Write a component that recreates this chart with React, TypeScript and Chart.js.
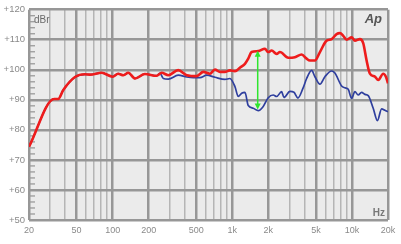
import React, { useEffect, useRef } from "react";
import { Chart, registerables } from "chart.js";
Chart.register(...registerables);

const redFreq = [20, 32.5, 35.1, 38.7, 48.5, 58.7, 64.7, 81, 100, 111, 123, 135, 154, 186, 233, 257, 292, 353, 416, 504, 572, 650, 716, 788, 868, 955, 1052, 1158, 1275, 1359, 1451, 1647, 1873, 1996, 2132, 2346, 2500, 2933, 3337, 3796, 4178, 4452, 4902, 5396, 6139, 6758, 7442, 7930, 8450, 9020, 9932, 10582, 11648, 12412, 13250, 14124, 15546, 16564, 18238, 19212, 20000];
const redDb = [74.4, 90.3, 90.3, 93.3, 97.6, 98.5, 98.4, 99.0, 97.7, 98.7, 98.2, 99.0, 97.1, 98.6, 98.0, 99.0, 98.2, 99.9, 98.2, 97.9, 99.3, 98.7, 100.1, 99.3, 99.3, 99.8, 99.5, 100.7, 102.0, 103.7, 105.9, 106.2, 107.0, 105.9, 106.4, 105.3, 105.9, 104.0, 104.2, 105.1, 103.7, 103.1, 103.1, 105.9, 109.7, 110.2, 111.9, 112.2, 111.3, 110.0, 110.8, 109.7, 110.2, 108.9, 103.1, 98.7, 97.7, 96.6, 98.7, 97.7, 95.5];

const blueFreq = [20, 32.5, 35.1, 38.7, 48.5, 58.7, 64.7, 81, 100, 111, 123, 135, 154, 186, 233, 249, 265, 292, 353, 416, 472, 537, 610, 716, 868, 955, 1052, 1121, 1197, 1275, 1359, 1496, 1647, 1813, 1996, 2198, 2346, 2582, 2700, 3030, 3274, 3535, 3892, 4178, 4598, 4902, 5396, 5942, 6758, 7202, 8194, 8730, 9302, 9932, 10582, 11274, 12034, 12824, 13666, 15046, 16310, 17686, 18844, 20000];
const blueDb = [74.4, 90.3, 90.3, 93.3, 97.6, 98.5, 98.4, 99.0, 97.7, 98.7, 98.2, 99.0, 97.1, 98.6, 98.0, 98.8, 97.1, 96.9, 98.2, 97.6, 97.4, 97.4, 98.2, 97.5, 96.8, 97.1, 94.4, 91.1, 92.2, 92.5, 88.1, 87.2, 86.4, 87.8, 90.7, 91.6, 91.1, 92.7, 90.8, 92.8, 92.5, 90.6, 93.8, 97.1, 99.8, 97.7, 95.2, 97.7, 99.6, 98.9, 94.6, 94.0, 93.5, 90.5, 92.7, 91.6, 92.5, 91.8, 91.4, 87.2, 83.1, 87.0, 86.5, 86.0];

const xGrid = [20, 30, 40, 50, 60, 70, 80, 90, 100, 200, 300, 400, 500, 600, 700, 800, 900, 1000, 2000, 3000, 4000, 5000, 6000, 7000, 8000, 9000, 10000, 20000];
const xMajor = [20, 50, 100, 200, 500, 1000, 2000, 5000, 10000, 20000];
const xLabelValues = [20, 50, 100, 200, 500, 1000, 2000, 5000, 10000, 20000];
const xLabelTexts = ["20", "50", "100", "200", "500", "1k", "2k", "5k", "10k", "20k"];
const yMin = 50;
const yMax = 120;
const yMinorStep = 2;

const arrowFreq = [1630];
const arrowTop = [106.3];
const arrowBottom = [86.8];

const MAJOR_COLOR = "#979797";
const MINOR_COLOR = "#b5b5b5";

const decorPlugin = {
  id: "decor",
  beforeDraw(chart: any) {
    const { ctx, chartArea } = chart;
    ctx.save();
    ctx.fillStyle = "#ebebeb";
    ctx.fillRect(chartArea.left, chartArea.top - 1, chartArea.right - chartArea.left, chartArea.bottom - chartArea.top + 1);
    ctx.restore();
  },
  beforeDatasetsDraw(chart: any) {
    const { ctx, chartArea, scales } = chart;
    ctx.save();
    ctx.strokeStyle = "#9a9a9a";
    ctx.lineWidth = 1.3;
    for (let v = yMin; v <= yMax; v += yMinorStep) {
      if (v % 10 === 0) continue;
      const y = scales.y.getPixelForValue(v);
      ctx.beginPath();
      ctx.moveTo(chartArea.left, y);
      ctx.lineTo(chartArea.left + 6, y);
      ctx.stroke();
    }
    ctx.restore();
  },
  afterDatasetsDraw(chart: any) {
    const { ctx, chartArea, scales } = chart;
    ctx.save();
    // green arrow
    arrowFreq.forEach((f, i) => {
      const x = scales.x.getPixelForValue(f);
      const y1 = scales.y.getPixelForValue(arrowTop[i]);
      const y2 = scales.y.getPixelForValue(arrowBottom[i]);
      ctx.strokeStyle = "#2ee62e";
      ctx.fillStyle = "#2ee62e";
      ctx.lineWidth = 1.5;
      ctx.beginPath();
      ctx.moveTo(x, y1 + 3);
      ctx.lineTo(x, y2 - 3);
      ctx.stroke();
      ctx.beginPath();
      ctx.moveTo(x, y1);
      ctx.lineTo(x - 3, y1 + 6);
      ctx.lineTo(x + 3, y1 + 6);
      ctx.closePath();
      ctx.fill();
      ctx.beginPath();
      ctx.moveTo(x, y2);
      ctx.lineTo(x - 3, y2 - 6);
      ctx.lineTo(x + 3, y2 - 6);
      ctx.closePath();
      ctx.fill();
    });
    // labels
    ctx.textBaseline = "middle";
    ctx.fillStyle = "#6a6a6a";
    ctx.font = "10px 'Liberation Sans', Arial, sans-serif";
    ctx.textAlign = "left";
    ctx.fillText("dBr", chartArea.left + 5, chartArea.top + 11);
    ctx.font = "bold 10px 'Liberation Sans', Arial, sans-serif";
    ctx.fillStyle = "#777777";
    ctx.textAlign = "right";
    ctx.fillText("Hz", chartArea.right - 3, chartArea.bottom - 7);
    ctx.font = "italic bold 13px 'Liberation Sans', Arial, sans-serif";
    ctx.fillStyle = "#555555";
    ctx.fillText("Ap", chartArea.right - 6, chartArea.top + 10);
    ctx.restore();
  },
};

export default function App() {
  const ref = useRef<HTMLCanvasElement | null>(null);
  useEffect(() => {
    const canvas = ref.current;
    if (!canvas) return;
    const chart = new Chart(canvas, {
      type: "line",
      data: {
        datasets: [
          {
            data: redFreq.map((f, i) => ({ x: f, y: redDb[i] })),
            borderColor: "#ee1c1c",
            borderWidth: 2.6,
            pointRadius: 0,
            cubicInterpolationMode: "monotone",
            fill: false,
          },
          {
            data: blueFreq.map((f, i) => ({ x: f, y: blueDb[i] })),
            borderColor: "#2f3f9e",
            borderWidth: 1.7,
            pointRadius: 0,
            cubicInterpolationMode: "monotone",
            fill: false,
          },
        ],
      },
      options: {
        responsive: false,
        maintainAspectRatio: false,
        devicePixelRatio: 1,
        animation: false,
        events: [],
        layout: { padding: { top: 6, right: 13, left: 0, bottom: 0 } },
        plugins: { legend: { display: false }, tooltip: { enabled: false } },
        scales: {
          x: {
            type: "logarithmic",
            min: 20,
            max: 20000,
            afterBuildTicks: (s: any) => {
              s.ticks = xGrid.map((v) => ({ value: v }));
            },
            afterFit: (s: any) => {
              s.height = 24;
            },
            border: { display: false },
            grid: {
              drawTicks: false,
              color: (c: any) => (xMajor.includes(c.tick?.value) ? MAJOR_COLOR : MINOR_COLOR),
              lineWidth: (c: any) => (xMajor.includes(c.tick?.value) ? 2.5 : 1.5),
            },
            ticks: {
              autoSkip: false,
              maxRotation: 0,
              padding: 5,
              color: "#8a8a8a",
              font: { family: "'Liberation Sans', Arial, sans-serif", size: 9 },
              callback: (v: any) => {
                const idx = xLabelValues.indexOf(Number(v));
                return idx >= 0 ? xLabelTexts[idx] : "";
              },
            },
          },
          y: {
            min: yMin,
            max: yMax,
            afterFit: (s: any) => {
              s.width = 29;
            },
            border: { display: false },
            grid: {
              drawTicks: false,
              color: MAJOR_COLOR,
              lineWidth: 2.5,
            },
            ticks: {
              stepSize: 10,
              padding: 4,
              color: "#8a8a8a",
              font: { family: "'Liberation Sans', Arial, sans-serif", size: 9.5 },
              callback: (v: any) => "+" + v,
            },
          },
        },
      },
      plugins: [decorPlugin],
    } as any);
    return () => chart.destroy();
  }, []);
  return (
    <div style={{ position: "fixed", left: 0, top: 0, width: 401, height: 244, background: "#ffffff" }}>
      <canvas ref={ref} width={401} height={244} style={{ width: 401, height: 244, display: "block" }} />
    </div>
  );
}
